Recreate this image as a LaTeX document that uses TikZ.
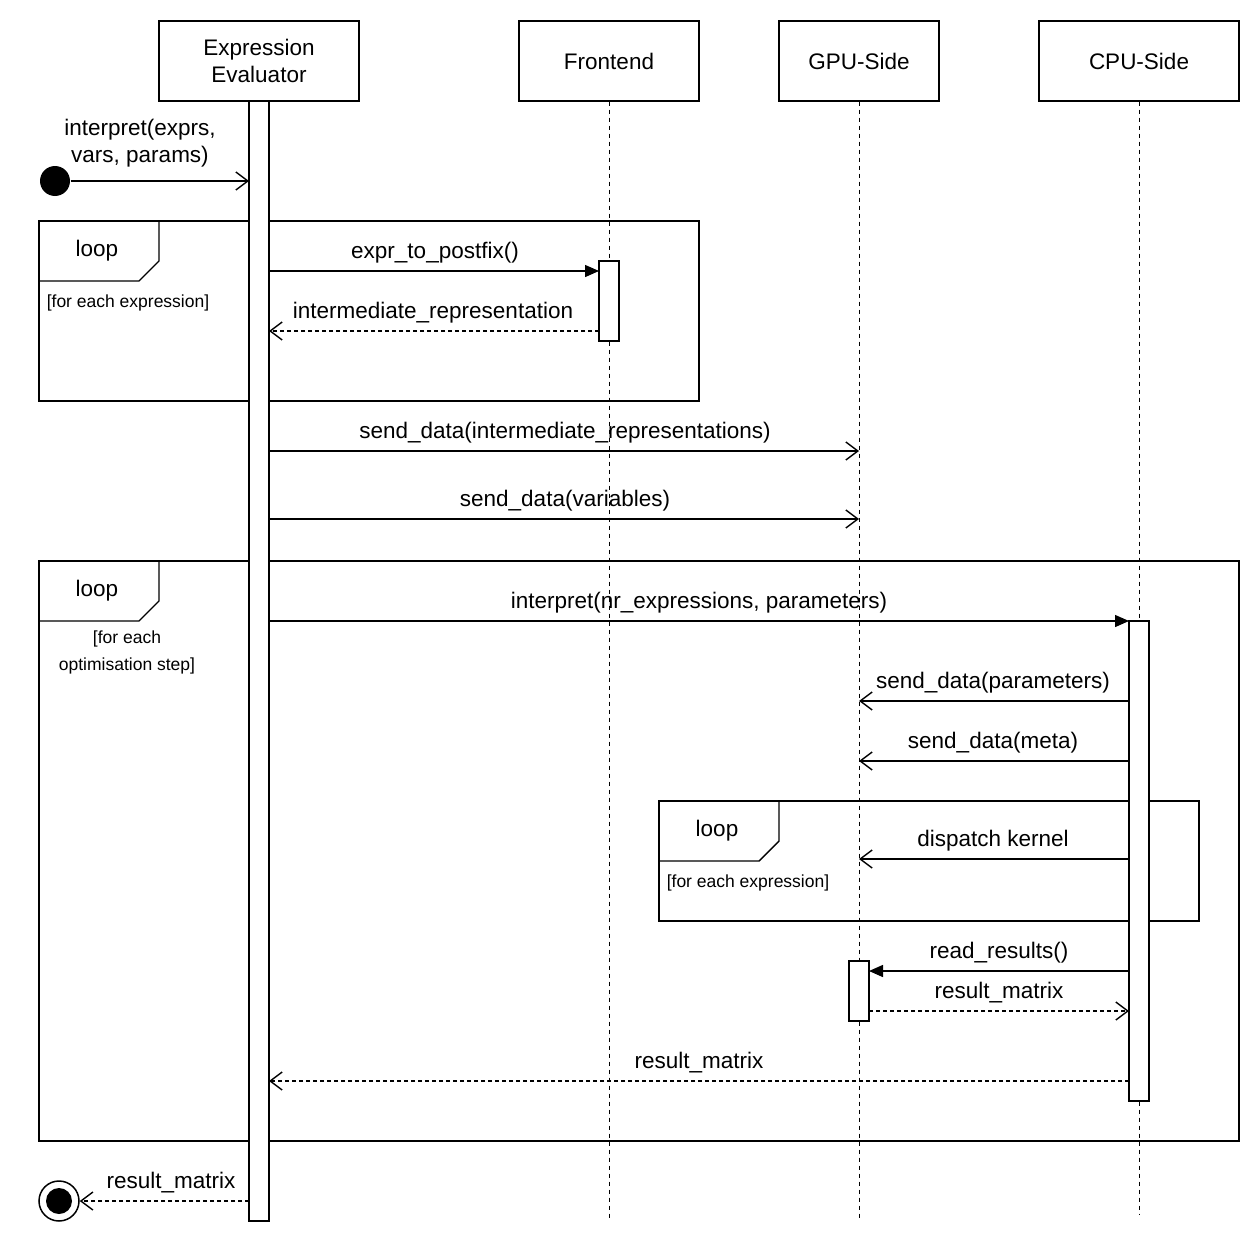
\documentclass[tikz,border=0pt]{standalone}
\usepackage{fontspec}
\setmainfont{Liberation Sans}
\usetikzlibrary{arrows.meta}
\begin{document}
\begin{tikzpicture}[x=1pt,y=-1pt,line width=1.4pt,
  hdr/.style={draw,fill=white,minimum width=#1,minimum height=80pt,align=center,font=\fontsize{22.5}{27}\selectfont,inner sep=0pt},
  bar/.style={draw,fill=white,minimum width=20pt,inner sep=0pt},
  life/.style={dash pattern=on 4pt off 4pt,line width=1pt},
  msg/.style={-{Triangle[length=14pt,width=12pt]}},
  asy/.style={-{Straight Barb[length=12pt,width=18pt]}},
  ret/.style={dash pattern=on 4pt off 3pt,-{Straight Barb[length=12pt,width=18pt]}},
  lbl/.style={font=\fontsize{22.5}{27}\selectfont,inner sep=0pt},
  guard/.style={font=\fontsize{17.5}{27}\selectfont,inner sep=0pt,align=center}]
\useasboundingbox (0,0) rectangle (1260,1244);
% frames
\draw (39,221) rectangle (699,401);
\draw (39,221) -- (159,221) -- (159,261) -- (139,281) -- (39,281);
\node[lbl] at (97,251) {loop};
\node[guard] at (128,303) {[for each expression]};
\draw (39,561) rectangle (1239,1141);
\draw (39,561) -- (159,561) -- (159,601) -- (139,621) -- (39,621);
\node[lbl] at (97,591) {loop};
\node[guard,align=center] at (127,652) {[for each\\optimisation step]};
\draw (659,801) rectangle (1199,921);
\draw (659,801) -- (779,801) -- (779,841) -- (759,861) -- (659,861);
\node[lbl] at (717,831) {loop};
\node[guard] at (748,883) {[for each expression]};
% headers
\node[hdr=200pt] (ee) at (259,61) {Expression\\Evaluator};
\node[hdr=180pt] (fe) at (609,61) {Frontend};
\node[hdr=160pt] (gpu) at (859,61) {GPU-Side};
\node[hdr=200pt] (cpu) at (1139,61) {CPU-Side};
% lifelines
\coordinate (feE) at (609,1221);
\coordinate (gpuE) at (859,1221);
\coordinate (cpuE) at (1139,1215);
\draw[life] (fe.south) -- (feE);
\draw[life] (gpu.south) -- (gpuE);
\draw[life] (cpu.south) -- (cpuE);
% activation bars
\node[bar,minimum height=1120pt] (eeb) at (259,661) {};
\node[bar,minimum height=80pt] (feb) at (609,301) {};
\node[bar,minimum height=480pt] (cpub) at (1139,861) {};
\node[bar,minimum height=60pt] (gpub) at (859,991) {};
% start
\node[circle,fill=black,minimum size=30pt,inner sep=0pt] (start) at (55,181) {};
\draw[asy] (start.east) -- (249,181);
\node[lbl,align=center] at (140,143) {interpret(exprs,\\vars, params)};
% loop1
\draw[msg] (269,271) -- (599,271);
\node[lbl] at (435,253) {expr\_to\_postfix()};
\draw[ret] (599,331) -- (269,331);
\node[lbl] at (433,313) {intermediate\_representation};
\draw[asy] (269,451) -- (859,451);
\node[lbl] at (565,433) {send\_data(intermediate\_representations)};
\draw[asy] (269,519) -- (859,519);
\node[lbl] at (565,501) {send\_data(variables)};
% loop2
\draw[msg] (269,621) -- (1129,621);
\node[lbl] at (699,603) {interpret(nr\_expressions, parameters)};
\draw[asy] (1129,701) -- (859,701);
\node[lbl] at (993,683) {send\_data(parameters)};
\draw[asy] (1129,761) -- (859,761);
\node[lbl] at (993,743) {send\_data(meta)};
\draw[asy] (1129,859) -- (859,859);
\node[lbl] at (993,841) {dispatch kernel};
\draw[msg] (1129,971) -- (869,971);
\node[lbl] at (999,953) {read\_results()};
\draw[ret] (869,1011) -- (1129,1011);
\node[lbl] at (999,993) {result\_matrix};
\draw[ret] (1129,1081) -- (269,1081);
\node[lbl] at (699,1063) {result\_matrix};
% end
\node[circle,draw,fill=white,minimum size=40pt,inner sep=0pt,line width=1.5pt] (end) at (59,1201) {};
\fill (end.center) circle (13pt);
\draw[ret] (249,1201) -- (end.east);
\node[lbl] at (171,1183) {result\_matrix};
\end{tikzpicture}
\end{document}
